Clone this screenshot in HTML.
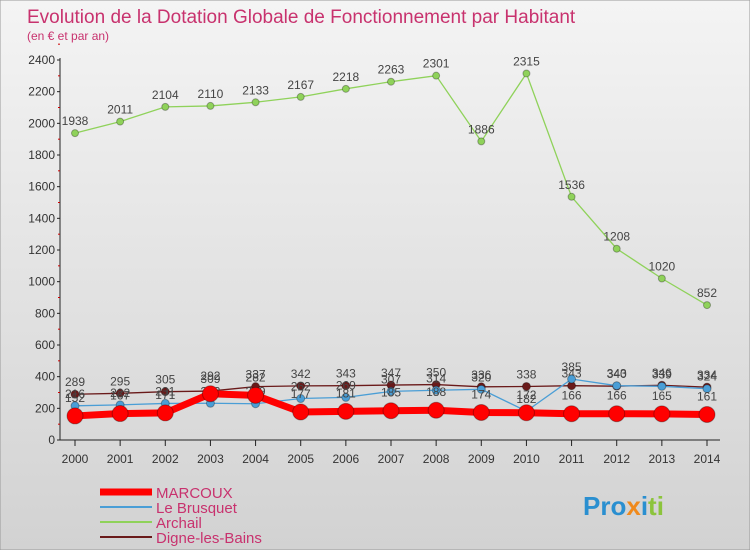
<!DOCTYPE html>
<html><head><meta charset="utf-8"><style>
body{margin:0;width:750px;height:550px;overflow:hidden;font-family:"Liberation Sans",sans-serif}
</style></head><body>
<svg width="750" height="550" xmlns="http://www.w3.org/2000/svg">
<defs><linearGradient id="bg" x1="0" y1="0" x2="0" y2="1"><stop offset="0" stop-color="#f4f4f4"/><stop offset="1" stop-color="#d2d2d2"/></linearGradient></defs>
<rect x="0" y="0" width="750" height="550" fill="url(#bg)" stroke="#999"/>
<text x="27" y="23" font-size="19" fill="#c8326e">Evolution de la Dotation Globale de Fonctionnement par Habitant</text>
<text x="27" y="40" font-size="12" fill="#c8326e">(en € et par an)</text>
<g id="axes"></g><g id="series"></g><g id="legend"></g>
<text x="583" y="515" font-size="26" font-weight="bold" fill="#2a8fd0">Pro<tspan fill="#f08a1c">x</tspan>i<tspan fill="#8cc43c">ti</tspan></text>
</svg>
<script>
const years=[2000,2001,2002,2003,2004,2005,2006,2007,2008,2009,2010,2011,2012,2013,2014];
const yTicks=[0,200,400,600,800,1000,1200,1400,1600,1800,2000,2200,2400];
const marcoux=[152,167,171,292,282,177,181,185,188,174,172,166,166,165,161];
const brusquet=[216,222,231,232,229,262,269,307,314,320,182,385,343,339,324];
const archail=[1938,2011,2104,2110,2133,2167,2218,2263,2301,1886,2315,1536,1208,1020,852];
const digne=[289,295,305,309,337,342,343,347,350,336,338,343,340,346,334];
const NS="http://www.w3.org/2000/svg";
const X=i=>75+i*(707-75)/14, Y=v=>440-v*(380/2400);
function mk(t,a,p){const e=document.createElementNS(NS,t);for(const k in a)e.setAttribute(k,a[k]);p.appendChild(e);return e;}
const ax=document.getElementById('axes');
const yl=mk('line',{x1:60,y1:58,x2:60,y2:440,stroke:'#222'},ax);


const xl=mk('line',{x1:60,y1:440,x2:720,y2:440,stroke:'#222'},ax);


yTicks.forEach(v=>{const t=mk('text',{x:55,y:Y(v)+4,'font-size':12,'text-anchor':'end',fill:'#333'},ax);t.textContent=v;


mk('line',{x1:57,x2:60,y1:Y(v),y2:Y(v),stroke:'#222'},ax);
mk('line',{x1:58,x2:60,y1:Y(v+100),y2:Y(v+100),stroke:'#c00'},ax);});
years.forEach((y,i)=>{mk('line',{x1:X(i),x2:X(i),y1:440,y2:446,stroke:'#222'},ax);
const t=mk('text',{x:X(i),y:463,'font-size':12,'text-anchor':'middle',fill:'#333'},ax);t.textContent=y;

});
const sg=document.getElementById('series');
function series(data,color,w,r,name,labelColor,dy){
const g=mk('g',{},sg);


mk('polyline',{points:data.map((v,i)=>X(i)+','+Y(v)).join(' '),fill:'none',stroke:color,'stroke-width':w},g);
data.forEach((v,i)=>{const c=mk('circle',{cx:X(i),cy:Y(v),r:r,fill:color,stroke:'rgba(0,0,0,0.3)'},g);


const t=mk('text',{x:X(i),y:Y(v)+dy,'font-size':12,'text-anchor':'middle',fill:labelColor},g);t.textContent=v;

});}
series(archail,'#8fd25a',1.3,3.5,'archail-series','#444',-8);
series(digne,'#6a1a1a',1.3,4,'digne-series','#444',-8);
series(brusquet,'#4a9ed6',1.3,4,'brusquet-series','#444',-8);
series(marcoux,'#ff0000',7,8,'marcoux-series','#444',-14);
const lg=document.getElementById('legend');
[['MARCOUX','#ff0000',7],['Le Brusquet','#4a9ed6',2],['Archail','#8fd25a',2],['Digne-les-Bains','#6a1a1a',2]].forEach((d,i)=>{
const y=492+i*15;
const g=mk('g',{},lg);


mk('line',{x1:100,x2:152,y1:y,y2:y,stroke:d[1],'stroke-width':d[2]},g);
const t=mk('text',{x:156,y:y+6,'font-size':15,fill:'#c8326e'},g);t.textContent=d[0];});
</script>
</body></html>
